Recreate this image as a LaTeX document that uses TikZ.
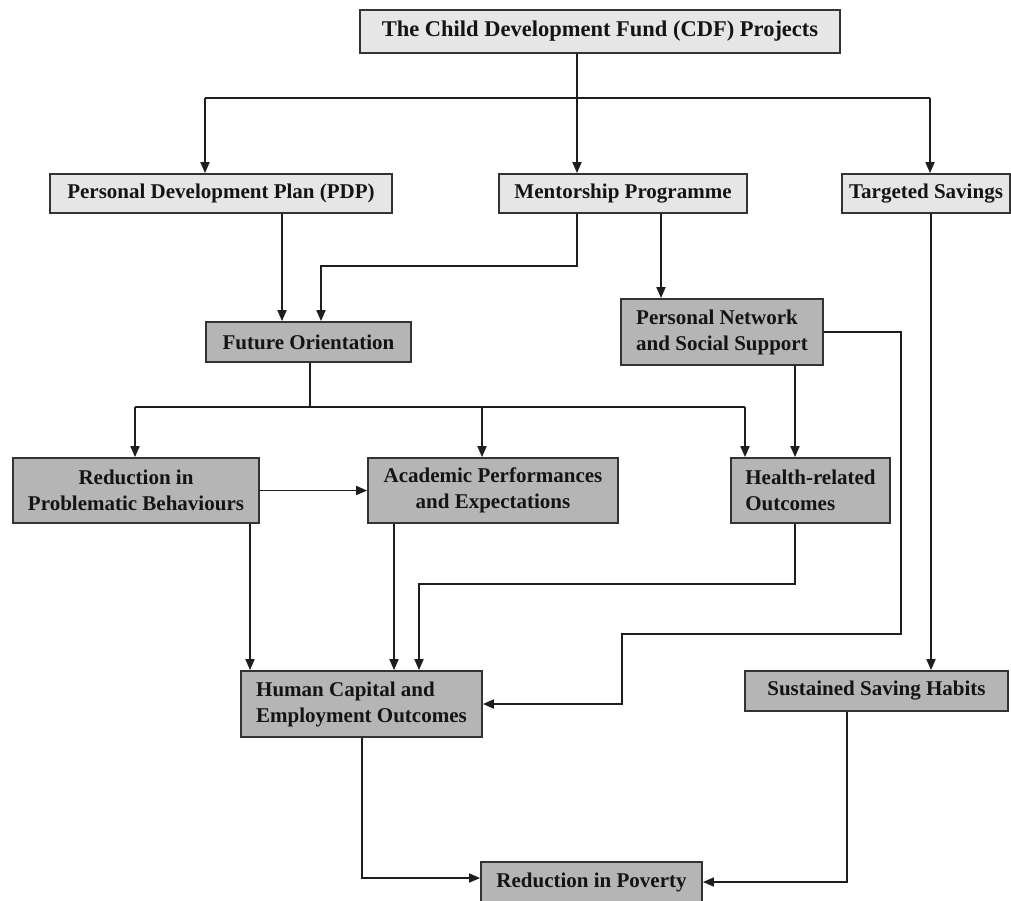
\documentclass[tikz,border=0pt]{standalone}
\usepackage{fontspec}
\setmainfont{Liberation Serif}
\usetikzlibrary{arrows.meta}
\definecolor{lightfill}{HTML}{E6E6E6}
\definecolor{darkfill}{HTML}{B5B5B5}
\definecolor{edgecol}{HTML}{333333}
\definecolor{linecol}{HTML}{1E1E1E}
\tikzset{
  box/.style={draw=edgecol, line width=1.8pt, inner sep=0pt, text=black!92,
    font=\bfseries\fontsize{21}{26}\selectfont, align=center},
  lightbox/.style={box, fill=lightfill},
  darkbox/.style={box, fill=darkfill},
  conn/.style={draw=linecol, line width=1.8pt},
  arr/.style={conn, -{Triangle[length=11pt,width=9pt]}},
}
\begin{document}
\begin{tikzpicture}[x=1pt,y=-1pt]
\useasboundingbox (0,0) rectangle (1011,900);
% nodes
\node[lightbox, minimum width=480pt, minimum height=43pt, font=\bfseries\fontsize{22.5}{26}\selectfont] (cdf) at (600,31.5) {The Child Development Fund (CDF) Projects};
\node[lightbox, minimum width=342pt, minimum height=39pt] (pdp) at (221,193.5) {Personal Development Plan (PDP)};
\node[lightbox, minimum width=248pt, minimum height=39pt] (mentor) at (623,193.5) {Mentorship Programme};
\node[lightbox, minimum width=168pt, minimum height=39pt] (target) at (926,193.5) {Targeted Savings};
\node[darkbox, minimum width=205pt, minimum height=40pt] (future) at (308.5,342) {Future Orientation};
\node[darkbox, minimum width=202pt, minimum height=66pt, align=left] (network) at (722,332) {Personal Network\\and Social Support};
\node[darkbox, minimum width=246pt, minimum height=65pt] (reduction) at (136,490.5) {Reduction in\\Problematic Behaviours};
\node[darkbox, minimum width=250pt, minimum height=65pt] (academic) at (493,490.5) {Academic Performances\\and Expectations};
\node[darkbox, minimum width=159pt, minimum height=65pt, align=left] (health) at (810.5,490.5) {Health-related\\Outcomes};
\node[darkbox, minimum width=241pt, minimum height=66pt, align=left] (human) at (361.5,704) {Human Capital and\\Employment Outcomes};
\node[darkbox, minimum width=263pt, minimum height=40pt] (sustained) at (876.5,691) {Sustained Saving Habits};
\node[darkbox, minimum width=221pt, minimum height=40pt] (poverty) at (591.5,882) {Reduction in Poverty};
% connectors from CDF
\coordinate (j) at (577,98);
\coordinate (jL) at (205,98);
\coordinate (jR) at (930,98);
\draw[conn] (cdf.south -| j) -- (j);
\draw[conn] (jL) -- (jR);
\draw[arr] (jL) -- (jL |- pdp.north);
\draw[arr] (j) -- (j |- mentor.north);
\draw[arr] (jR) -- (jR |- target.north);
% second row
\draw[arr] (282,0 |- pdp.south) -- (282,0 |- future.north);
\draw[arr] (577,0 |- mentor.south) -- (577,266) -| (321,0 |- future.north);
\draw[arr] (661,0 |- mentor.south) -- (661,0 |- network.north);
\draw[arr] (931,0 |- target.south) -- (931,0 |- sustained.north);
\draw[arr] (network.east) -- (901,332) -- (901,634) -- (622,634) -- (622,0 |- human.east) -- (human.east);
% future orientation fan-out
\coordinate (f) at (310,407);
\coordinate (fL) at (135,407);
\coordinate (fM) at (482,407);
\coordinate (fR) at (745,407);
\draw[conn] (future.south -| f) -- (f);
\draw[conn] (fL) -- (fR);
\draw[arr] (fL) -- (fL |- reduction.north);
\draw[arr] (fM) -- (fM |- academic.north);
\draw[arr] (fR) -- (fR |- health.north);
\draw[arr] (795,0 |- network.south) -- (795,0 |- health.north);
% third row
\draw[arr] (reduction.east) -- (academic.west);
\draw[arr] (250,0 |- reduction.south) -- (250,0 |- human.north);
\draw[arr] (394,0 |- academic.south) -- (394,0 |- human.north);
\draw[arr] (795,0 |- health.south) -- (795,584) -| (419,0 |- human.north);
% to poverty
\draw[arr] (362,0 |- human.south) |- (poverty.west |- 0,878);
\draw[arr] (847,0 |- sustained.south) |- (poverty.east |- 0,882);
\end{tikzpicture}
\end{document}
